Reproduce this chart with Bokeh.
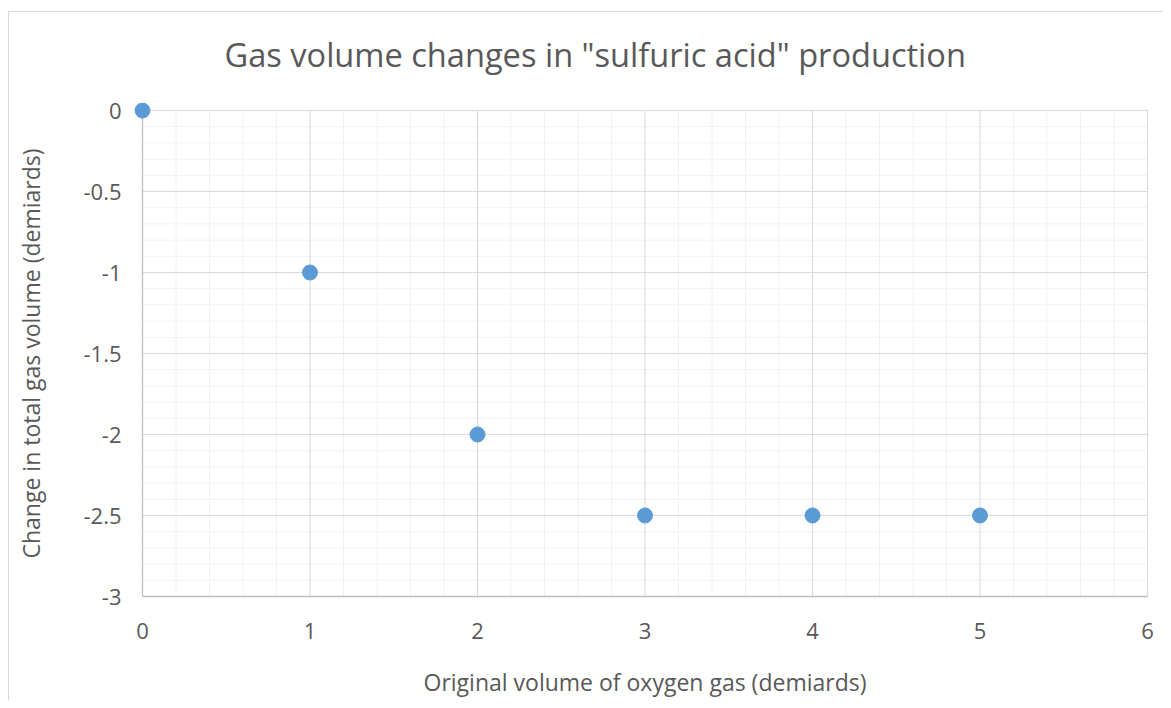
import numpy as np
from bokeh.plotting import figure
from bokeh.models import FixedTicker, Range1d, ColumnDataSource, Title
from bokeh.embed import file_html
from bokeh.resources import INLINE

# ---- data ----
oxygen_volume = [0, 1, 2, 3, 4, 5]
gas_change = [0, -1, -2, -2.5, -2.5, -2.5]

x_ticks = [0, 1, 2, 3, 4, 5, 6]
x_tick_labels = ["0", "1", "2", "3", "4", "5", "6"]
y_ticks = [0, -0.5, -1, -1.5, -2, -2.5, -3]
y_tick_labels = ["0", "-0.5", "-1", "-1.5", "-2", "-2.5", "-3"]

title_text = 'Gas volume changes in "sulfuric acid" production'
x_title = "Original volume of oxygen gas (demiards)"
y_title = "Change in total gas volume (demiards)"

# ---- styling / layout ----
FONT = "Open Sans"
TXT = "#595959"
xmin, xmax = min(x_ticks), max(x_ticks)
ymin, ymax = min(y_ticks), max(y_ticks)
px_per_x = 1005 / (xmax - xmin)
px_per_y = 486 / (ymax - ymin)
pad = 8
x_pad = pad / px_per_x
y_pad = pad / px_per_y

p = figure(
    width=1163, height=700,
    output_backend="svg", toolbar_location=None,
    x_range=Range1d(xmin - x_pad, xmax + x_pad),
    y_range=Range1d(ymin - y_pad, ymax + y_pad),
    min_border_left=134, min_border_right=8,
    min_border_top=102, min_border_bottom=92,
)
p.outline_line_color = None
p.background_fill_color = "white"
p.border_fill_color = None
p.styles = {
    "background": "linear-gradient(#d9d9d9,#d9d9d9) 8px 11px / 1px 700px no-repeat, "
                  "linear-gradient(#d9d9d9,#d9d9d9) 8px 11px / 1200px 1px no-repeat, white"
}
p.xgrid.visible = False
p.ygrid.visible = False

# grid lines (drawn as segments so they stop exactly at the axis bounds)
x_minor = [v for v in np.round(np.arange(xmin, xmax + 1e-9, 0.2), 6) if v not in x_ticks]
y_minor = [v for v in np.round(np.arange(ymin, ymax + 1e-9, 0.1), 6) if v not in y_ticks]

p.segment(x0=x_minor, y0=[ymin] * len(x_minor), x1=x_minor, y1=[ymax] * len(x_minor),
          line_color="#f2f2f2", line_width=1)
p.segment(x0=[xmin] * len(y_minor), y0=y_minor, x1=[xmax] * len(y_minor), y1=y_minor,
          line_color="#f2f2f2", line_width=1)
xm = x_ticks[1:]
ym = y_ticks[:-1]
p.segment(x0=xm, y0=[ymin] * len(xm), x1=xm, y1=[ymax] * len(xm),
          line_color="#d9d9d9", line_width=1)
p.segment(x0=[xmin] * len(ym), y0=ym, x1=[xmax] * len(ym), y1=ym,
          line_color="#d9d9d9", line_width=1)
# axis lines
p.segment(x0=[xmin], y0=[ymin], x1=[xmin], y1=[ymax], line_color="#bfbfbf", line_width=1.3)
p.segment(x0=[xmin], y0=[ymin], x1=[xmax], y1=[ymin], line_color="#bfbfbf", line_width=1.3)

src = ColumnDataSource(dict(x=oxygen_volume, y=gas_change))
p.scatter("x", "y", source=src, size=15, fill_color="#5b9bd5", line_color="#5b9bd5")

# axes
for ax in (p.xaxis[0], p.yaxis[0]):
    ax.axis_line_color = None
    ax.major_tick_line_color = None
    ax.minor_tick_line_color = None
    ax.major_label_text_font = FONT
    ax.major_label_text_font_size = "22px"
    ax.major_label_text_color = TXT
    ax.axis_label_text_font = FONT
    ax.axis_label_text_font_size = "23px"
    ax.axis_label_text_font_style = "normal"
    ax.axis_label_text_color = TXT

p.xaxis.ticker = FixedTicker(ticks=x_ticks)
p.xaxis.major_label_overrides = {float(t): l for t, l in zip(x_ticks, x_tick_labels)}
p.xaxis.major_label_standoff = 12
p.xaxis.axis_label = x_title
p.xaxis.axis_label_standoff = 24

p.yaxis.ticker = FixedTicker(ticks=y_ticks)
p.yaxis.major_label_overrides = {float(t): l for t, l in zip(y_ticks, y_tick_labels)}
p.yaxis.major_label_standoff = 7
p.yaxis.axis_label = y_title
p.yaxis.axis_label_standoff = 33

# chart title
p.add_layout(Title(text=title_text, text_font=FONT, text_font_size="32.6px",
                   text_font_style="normal", text_color=TXT,
                   align="left", offset=90, standoff=52), "above")

open("out.html", "w").write(file_html(p, INLINE))
